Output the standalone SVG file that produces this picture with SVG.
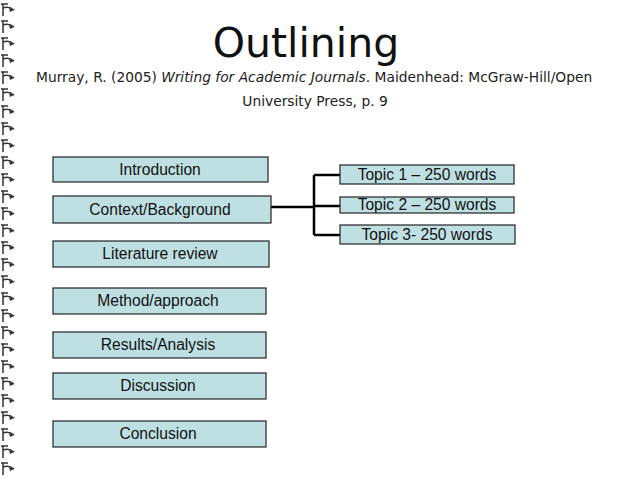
<svg xmlns="http://www.w3.org/2000/svg" width="638" height="479" viewBox="0 0 638 479">
<defs>
<style>
.b{fill:#bfe0e3;stroke:#222;stroke-width:1.2}
.t{font-family:"Liberation Sans",Arial,sans-serif;font-size:15.6px;fill:#111;text-anchor:middle}
.c{stroke:#000;stroke-width:2.5;fill:none}
.r{stroke:#333;stroke-width:1.5;fill:none}
</style>
<g id="ring"><path class="r" d="M1 4 H8 M3 4 V16 M3 8 Q9 6 14 10" /><path d="M9 8 L14 10 L10 12 Z" fill="#333"/></g>
</defs>
<rect width="638" height="479" fill="#fff"/>
<g id="binding">
<use href="#ring" y="0"/><use href="#ring" y="17"/><use href="#ring" y="34"/><use href="#ring" y="51"/><use href="#ring" y="68"/><use href="#ring" y="85"/><use href="#ring" y="102"/><use href="#ring" y="119"/><use href="#ring" y="136"/><use href="#ring" y="153"/><use href="#ring" y="170"/><use href="#ring" y="187"/><use href="#ring" y="204"/><use href="#ring" y="221"/><use href="#ring" y="238"/><use href="#ring" y="255"/><use href="#ring" y="272"/><use href="#ring" y="289"/><use href="#ring" y="306"/><use href="#ring" y="323"/><use href="#ring" y="340"/><use href="#ring" y="357"/><use href="#ring" y="374"/><use href="#ring" y="391"/><use href="#ring" y="408"/><use href="#ring" y="425"/><use href="#ring" y="442"/><use href="#ring" y="459"/>
</g>
<text x="306" y="57" font-family="DejaVu Sans,sans-serif" font-size="41" text-anchor="middle" fill="#111">Outlining</text>
<text x="36" y="82" font-family="DejaVu Sans,sans-serif" font-size="13.8" fill="#222">Murray, R. (2005) <tspan font-style="italic">Writing for Academic Journals</tspan>. Maidenhead: McGraw-Hill/Open</text>
<text x="315" y="106" font-family="DejaVu Sans,sans-serif" font-size="13.8" fill="#222" text-anchor="middle">University Press, p. 9</text>
<g id="connectors">
<path class="c" d="M268 207 H314 M314 175 V235 M314 175 H341 M314 206 H341 M314 235 H341"/>
</g>
<g id="n1"><rect class="b" x="53" y="157" width="215" height="25"/><text class="t" x="160" y="175">Introduction</text></g>
<g id="n2"><rect class="b" x="53" y="196" width="218" height="27"/><text class="t" x="160" y="215">Context/Background</text></g>
<g id="n3"><rect class="b" x="53" y="241" width="216" height="26"/><text class="t" x="160" y="259">Literature review</text></g>
<g id="n4"><rect class="b" x="53" y="288" width="213" height="26"/><text class="t" x="158" y="306">Method/approach</text></g>
<g id="n5"><rect class="b" x="53" y="332" width="213" height="26"/><text class="t" x="158" y="350">Results/Analysis</text></g>
<g id="n6"><rect class="b" x="53" y="373" width="213" height="26"/><text class="t" x="158" y="391">Discussion</text></g>
<g id="n7"><rect class="b" x="53" y="421" width="213" height="26"/><text class="t" x="158" y="439">Conclusion</text></g>
<g id="t1"><rect class="b" x="340" y="165" width="174" height="19"/><text class="t" x="427" y="180">Topic 1 – 250 words</text></g>
<g id="t2"><rect class="b" x="340" y="197" width="174" height="16"/><text class="t" x="427" y="210">Topic 2 – 250 words</text></g>
<g id="t3"><rect class="b" x="340" y="225" width="175" height="19"/><text class="t" x="427" y="240">Topic 3- 250 words</text></g>
</svg>
